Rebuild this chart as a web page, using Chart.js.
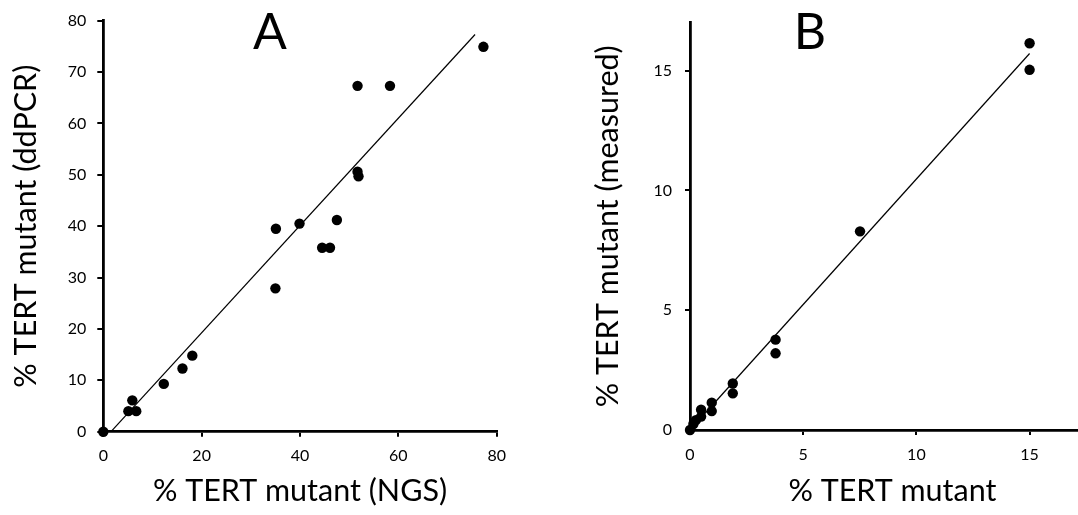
<!DOCTYPE html>
<html>
<head>
<meta charset="utf-8">
<script src="https://cdn.jsdelivr.net/npm/chart.js@4/dist/chart.umd.min.js"></script>
<style>
  html, body { margin:0; padding:0; background:#fff; overflow:hidden; }
  #wrap { position:relative; width:1078px; height:515px; overflow:hidden; }
  .cv { position:absolute; top:0; }
  .panel { position:absolute; width:100px; text-align:center; font-family: Lato, sans-serif; font-size:50px; color:#000; line-height:1; }
</style>
</head>
<body>
<div id="wrap">
  <div class="cv" style="left:0;width:540px;height:515px;"><canvas id="cA" width="540" height="515"></canvas></div>
  <div class="cv" style="left:540px;width:560px;height:515px;"><canvas id="cB" width="560" height="515"></canvas></div>
  <div class="panel" style="left:220px;top:5px;">A</div>
  <div class="panel" style="left:760px;top:5px;">B</div>
</div>
<script>
// ---- Data ----
const ngsA   = [0, 5.1, 5.9, 6.7, 12.3, 16.1, 18.1, 35.0, 35.1, 39.9, 44.5, 46.1, 47.5, 51.7, 51.9, 51.7, 58.3, 77.3];
const ddpcrA = [0, 4.0, 6.1, 4.0, 9.3, 12.3, 14.8, 27.9, 39.5, 40.5, 35.8, 35.8, 41.2, 50.6, 49.7, 67.3, 67.3, 74.9];
const trendAx = [1.57, 75.6];
const trendAy = [0, 77.3];

const expectedB = [0, 0.15, 0.26, 0.49, 0.49, 0.96, 0.96, 1.89, 1.89, 3.78, 3.78, 7.51, 15, 15];
const measuredB = [0, 0.25, 0.41, 0.56, 0.85, 0.79, 1.14, 1.53, 1.94, 3.20, 3.77, 8.29, 15.03, 16.14];
const trendBx = [0, 15];
const trendBy = [0, 15.71];

const xTicksA = [0, 20, 40, 60, 80];
const yTicksA = [0, 10, 20, 30, 40, 50, 60, 70, 80];
const xTicksB = [0, 5, 10, 15];
const yTicksB = [0, 5, 10, 15];

const FONT = 'Lato, sans-serif';

function pts(xs, ys) { return xs.map((x, i) => ({ x: x, y: ys[i] })); }

function axis(opts) {
  return {
    type: 'linear',
    min: opts.min, max: opts.max,
    afterBuildTicks: s => { s.ticks = opts.ticks.map(v => ({ value: v })); },
    afterFit: s => { if (opts.w) s.width = opts.w; if (opts.h) s.height = opts.h; },
    ticks: { color: '#000', padding: opts.tpad, font: { family: FONT, size: 16 } },
    grid: { drawOnChartArea: false, drawTicks: true, tickLength: opts.tlen, color: '#000', lineWidth: 2 },
    border: { color: '#000', width: 2.8 },
    title: { display: true, text: opts.title, color: '#000',
             font: { family: FONT, size: 30.5 }, padding: opts.titlePad }
  };
}

function makeChart(id, scatter, trend, xOpt, yOpt, pad) {
  return new Chart(document.getElementById(id), {
    type: 'scatter',
    data: {
      datasets: [
        { data: trend, showLine: true, borderColor: '#000', borderWidth: 1.2,
          pointRadius: 0, fill: false, clip: false, order: 2 },
        { data: scatter, backgroundColor: '#000', borderColor: '#000', borderWidth: 0,
          pointRadius: 5.2, pointHoverRadius: 5.2, clip: false, order: 1 }
      ]
    },
    options: {
      responsive: false, animation: false,
      layout: { padding: pad },
      plugins: { legend: { display: false }, tooltip: { enabled: false } },
      scales: { x: axis(xOpt), y: axis(yOpt) }
    }
  });
}

makeChart('cA', pts(ngsA, ddpcrA), pts(trendAx, trendAy),
  { min: 0, max: 80, ticks: xTicksA, h: 83.3, tpad: 10, tlen: 5, title: '% TERT mutant (NGS)', titlePad: { top: 0, bottom: 6 } },
  { min: 0, max: 80, ticks: yTicksA, w: 103.3, tpad: 11, tlen: 6, title: '% TERT mutant (ddPCR)', titlePad: { top: 8, bottom: 0 } },
  { left: 0, right: 43.3, top: 14, bottom: 0 });

makeChart('cB', pts(expectedB, measuredB), pts(trendBx, trendBy),
  { min: 0, max: 17.88, ticks: xTicksB, h: 85, tpad: 10, tlen: 5, title: '% TERT mutant', titlePad: { top: 0, bottom: 6 } },
  { min: 0, max: 17, ticks: yTicksB, w: 150, tpad: 13, tlen: 5, title: '% TERT mutant (measured)', titlePad: { top: 50, bottom: 0 } },
  { left: 0, right: 0, top: 12.3, bottom: 0 });
</script>
</body>
</html>
